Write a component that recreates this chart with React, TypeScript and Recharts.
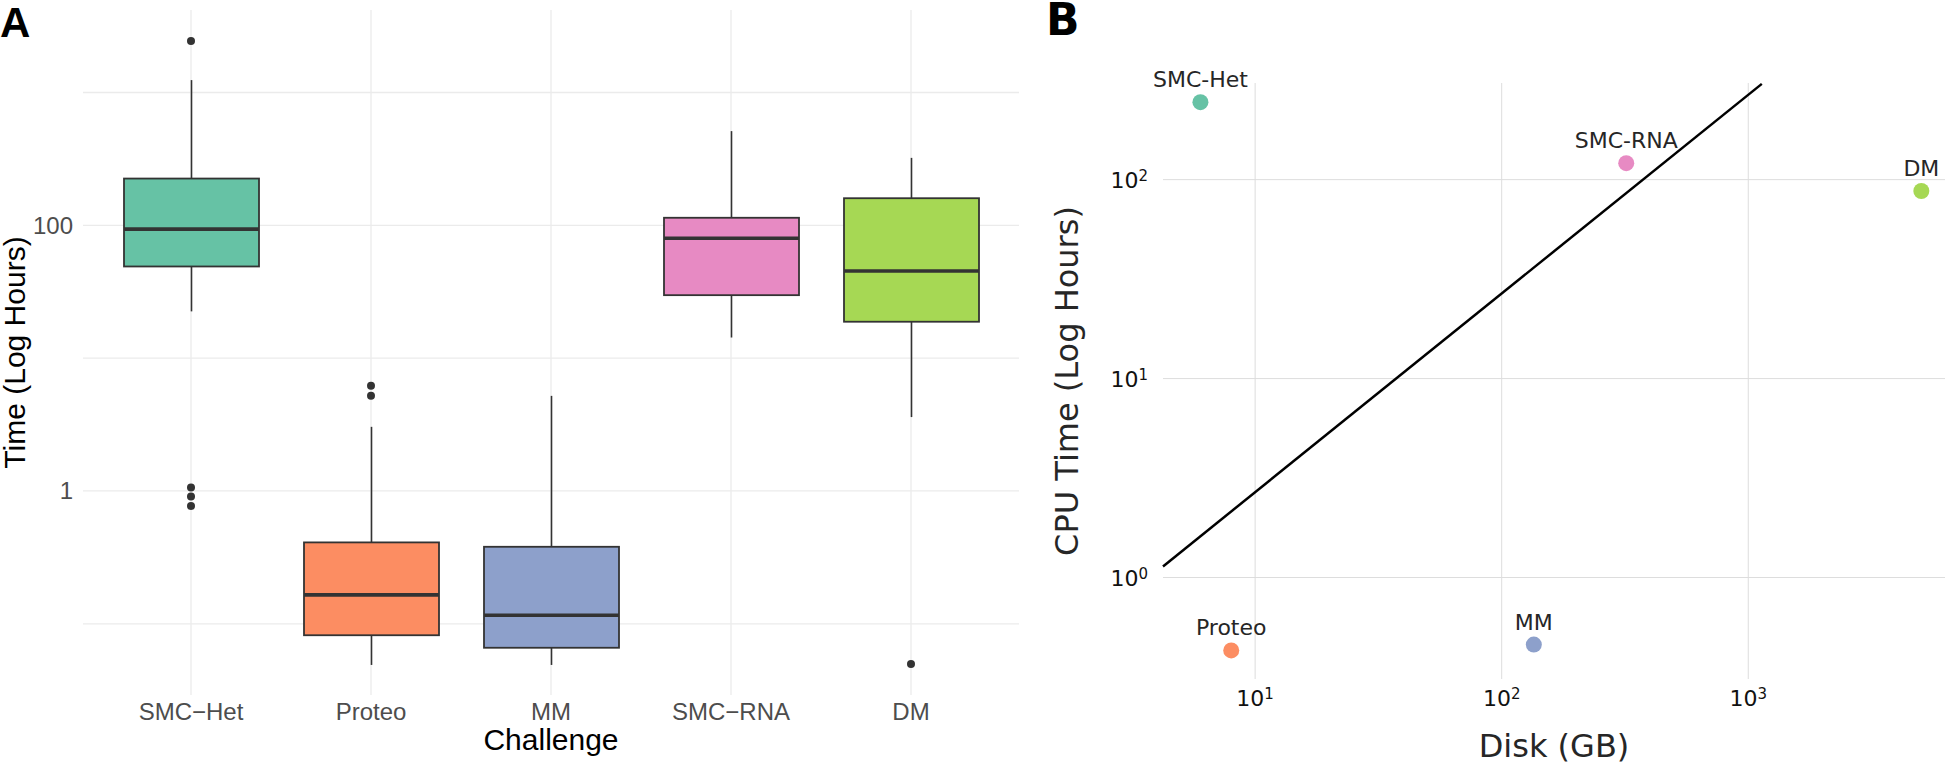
import React from 'react';
import { ComposedChart, ScatterChart, Bar, Line, Scatter, XAxis, YAxis, CartesianGrid } from 'recharts';

// Panel A: time per challenge, box plot summaries
const challenges = ['SMC−Het', 'Proteo', 'MM', 'SMC−RNA', 'DM'];
const challengeColors = ['#66C2A5', '#FC8D62', '#8DA0CB', '#E78AC3', '#A6D854'];
const whiskerLow = [22.5, 0.049, 0.049, 14.3, 3.6];
const lowerQuartile = [49, 0.082, 0.066, 29.8, 18.8];
const medians = [93.6, 0.165, 0.116, 80, 45.3];
const upperQuartile = [225, 0.41, 0.38, 114, 160];
const whiskerHigh = [1240, 3.04, 5.2, 512, 322];
const outliers = [[2440, 1.06, 0.91, 0.77], [6.2, 5.2], [], [], [0.0498]];
const timeTicks = [0.1, 1, 10, 100, 1000];
const timeLabels = [1, 100];

// Panel B: disk vs CPU time, one point per challenge
const pointNames = ['SMC-Het', 'Proteo', 'MM', 'SMC-RNA', 'DM'];
const diskGB = [6.0, 8.0, 135, 320, 5035];
const cpuHours = [245, 0.43, 0.46, 121, 87.7];
const fitDisk = [4.23, 1135];
const fitCpu = [1.137, 303];
const diskTicks = [10, 100, 1000];
const cpuTicks = [1, 10, 100];

const boxRows = challenges.map((name, i) => {
  const row: Record<string, any> = {
    name,
    lo: whiskerLow[i],
    q1: lowerQuartile[i],
    med: medians[i],
    q3: upperQuartile[i],
    hi: whiskerHigh[i],
  };
  outliers[i].forEach((v, k) => {
    row['out' + k] = v;
  });
  return row;
});

const pointRows = pointNames.map((name, i) => ({ name, disk: diskGB[i], cpu: cpuHours[i] }));
const fitRows = fitDisk.map((d, i) => ({ disk: d, cpu: fitCpu[i] }));

const boxColor = (name: string) => challengeColors[challenges.indexOf(name)];
const pointColor = (name: string) => challengeColors[pointNames.indexOf(name)];

const INK = '#333333';

const Whisker = (p: any) => {
  const cx = p.x + p.width / 2;
  return <line x1={cx} x2={cx} y1={p.y} y2={p.y + p.height} stroke={INK} strokeWidth={1.6} />;
};

const BoxRect = (p: any) => (
  <rect
    x={p.x}
    y={Math.min(p.y, p.y + p.height)}
    width={p.width}
    height={Math.abs(p.height)}
    fill={boxColor(p.payload.name)}
    stroke={INK}
    strokeWidth={1.8}
  />
);

const MedianLine = (p: any) => (
  <line x1={p.x} x2={p.x + p.width} y1={p.y} y2={p.y} stroke={INK} strokeWidth={3.6} />
);

const LabeledDot = (p: any) => (
  <g>
    <circle cx={p.cx} cy={p.cy} r={8} fill={pointColor(p.payload.name)} />
    <text x={p.cx} y={p.cy - 15} textAnchor="middle" fontSize={22} fill="#262626">
      {p.payload.name}
    </text>
  </g>
);

// matplotlib style 10^n tick labels
const PowerTick = (p: any) => {
  const exp = Math.round(Math.log10(p.payload.value));
  return (
    <text x={p.x} y={p.y} dy={p.shift} textAnchor={p.textAnchor} fontSize={22} fill="#111">
      10
      <tspan dy={-7} fontSize={15}>
        {exp}
      </tspan>
    </text>
  );
};

const BoxPanel = () => (
  <ComposedChart
    width={1030}
    height={763}
    data={boxRows}
    margin={{ top: 10, right: 11, bottom: 0, left: 0 }}
    barGap={-135}
    style={{ fontFamily: '"Liberation Sans", Arial, sans-serif' }}
  >
    <CartesianGrid stroke="#EBEBEB" strokeWidth={1.3} syncWithTicks />
    <XAxis
      dataKey="name"
      type="category"
      height={68}
      padding={{ left: 18, right: 18 }}
      axisLine={false}
      tickLine={false}
      tickSize={0}
      tickMargin={8}
      tick={{ fill: '#4D4D4D', fontSize: 24 }}
      label={{ value: 'Challenge', position: 'insideBottom', offset: 13, fill: '#000', fontSize: 30 }}
    />
    <YAxis
      type="number"
      scale="log"
      domain={[0.0291, 4180]}
      allowDataOverflow
      ticks={timeTicks}
      tickFormatter={(v: number) => (timeLabels.includes(v) ? String(v) : '')}
      width={83}
      axisLine={false}
      tickLine={false}
      tickSize={0}
      tickMargin={10}
      tick={{ fill: '#4D4D4D', fontSize: 24 }}
      label={{
        content: ({ viewBox }: any) => {
          const cx = viewBox.x + 25;
          const cy = viewBox.y + viewBox.height / 2;
          return (
            <text x={cx} y={cy} transform={`rotate(-90 ${cx} ${cy})`} textAnchor="middle" fontSize={30} fill="#000">
              Time (Log Hours)
            </text>
          );
        },
      }}
    />
    <Bar dataKey={(d: any) => [d.lo, d.q1]} barSize={135} shape={Whisker} isAnimationActive={false} />
    <Bar dataKey={(d: any) => [d.q3, d.hi]} barSize={135} shape={Whisker} isAnimationActive={false} />
    <Bar dataKey={(d: any) => [d.q1, d.q3]} barSize={135} shape={BoxRect} isAnimationActive={false} />
    <Bar dataKey={(d: any) => [d.med, d.med]} barSize={135} shape={MedianLine} isAnimationActive={false} />
    {[0, 1, 2, 3].map((k) => (
      <Line
        key={k}
        dataKey={'out' + k}
        stroke="none"
        dot={{ r: 4, fill: INK, stroke: 'none' }}
        activeDot={false}
        legendType="none"
        isAnimationActive={false}
      />
    ))}
  </ComposedChart>
);

const ScatterPanel = () => (
  <ScatterChart
    width={905}
    height={763}
    margin={{ top: 83, right: 0, bottom: 0, left: 0 }}
    style={{ fontFamily: '"DejaVu Sans", sans-serif' }}
  >
    <CartesianGrid stroke="#DDDDDD" strokeWidth={1} syncWithTicks />
    <XAxis
      type="number"
      dataKey="disk"
      scale="log"
      domain={[4.23, 6280]}
      ticks={diskTicks}
      height={84}
      axisLine={false}
      tickLine={false}
      tickSize={0}
      tickMargin={0}
      tick={(p: any) => <PowerTick {...p} shift={27} />}
      label={{ value: 'Disk (GB)', position: 'insideBottom', offset: 6, fill: '#262626', fontSize: 32 }}
    />
    <YAxis
      type="number"
      dataKey="cpu"
      scale="log"
      domain={[0.309, 306]}
      ticks={cpuTicks}
      width={123}
      axisLine={false}
      tickLine={false}
      tickSize={0}
      tickMargin={15}
      tick={(p: any) => <PowerTick {...p} shift={8} />}
      label={{
        content: ({ viewBox }: any) => {
          const cx = viewBox.x + 38;
          const cy = viewBox.y + viewBox.height / 2;
          return (
            <text x={cx} y={cy} transform={`rotate(-90 ${cx} ${cy})`} textAnchor="middle" fontSize={32} fill="#262626">
              CPU Time (Log Hours)
            </text>
          );
        },
      }}
    />
    <Scatter
      data={fitRows}
      line={{ stroke: '#000', strokeWidth: 2.5 }}
      shape={() => <g />}
      legendType="none"
      isAnimationActive={false}
    />
    <Scatter data={pointRows} shape={LabeledDot} isAnimationActive={false} />
  </ScatterChart>
);

export default function App() {
  return (
    <div
      style={{
        position: 'absolute',
        left: 0,
        top: 0,
        width: 1945,
        height: 763,
        background: '#fff',
        overflow: 'hidden',
      }}
    >
      <div style={{ position: 'absolute', left: 0, top: 0 }}>
        <BoxPanel />
      </div>
      <div style={{ position: 'absolute', left: 1040, top: 0 }}>
        <ScatterPanel />
      </div>
      <svg width={1945} height={763} style={{ position: 'absolute', left: 0, top: 0, pointerEvents: 'none' }}>
        <text x={0} y={37} fontFamily='"Liberation Sans", Arial, sans-serif' fontWeight="bold" fontSize={42} fill="#000">
          A
        </text>
        <text x={1046} y={35} fontFamily='"DejaVu Sans", sans-serif' fontWeight="bold" fontSize={44} fill="#000">
          B
        </text>
      </svg>
    </div>
  );
}
